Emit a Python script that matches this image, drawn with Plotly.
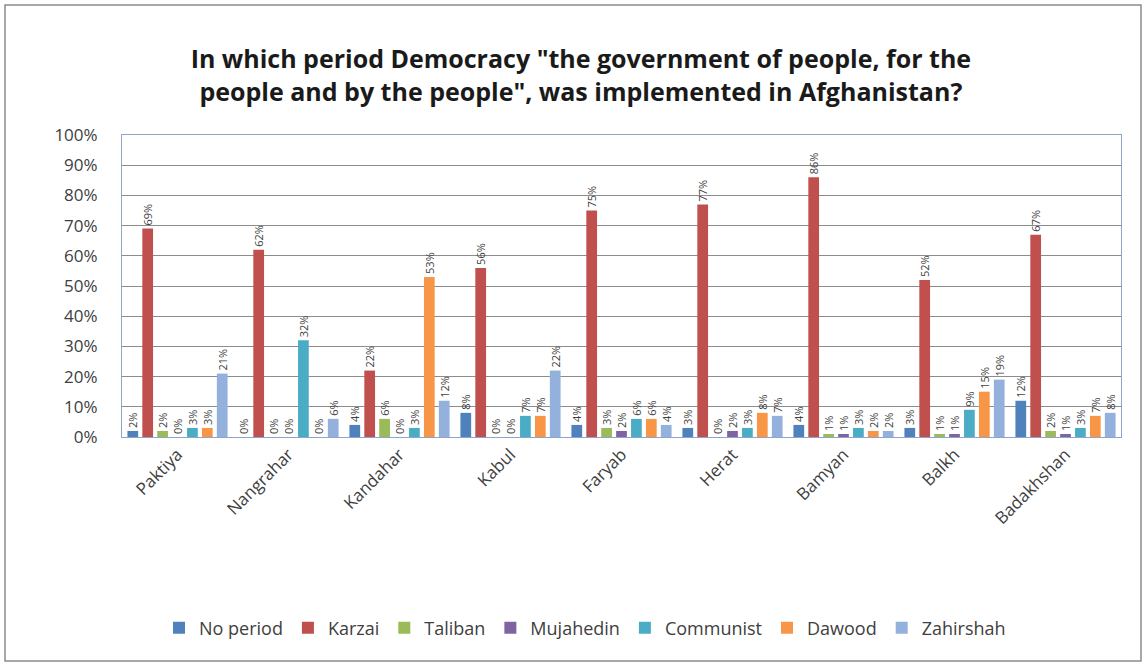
import plotly.graph_objects as go

provinces = ["Paktiya", "Nangrahar", "Kandahar", "Kabul", "Faryab",
             "Herat", "Bamyan", "Balkh", "Badakhshan"]

no_period = [2, 0, 4, 8, 4, 3, 4, 3, 12]
karzai = [69, 62, 22, 56, 75, 77, 86, 52, 67]
taliban = [2, 0, 6, 0, 3, 0, 1, 1, 2]
mujahedin = [0, 0, 0, 0, 2, 2, 1, 1, 1]
communist = [3, 32, 3, 7, 6, 3, 3, 9, 3]
dawood = [3, 0, 53, 7, 6, 8, 2, 15, 7]
zahirshah = [21, 6, 12, 22, 4, 7, 2, 19, 8]

series = [
    ("No period", no_period, "#4F81BD"),
    ("Karzai", karzai, "#C0504D"),
    ("Taliban", taliban, "#9BBB59"),
    ("Mujahedin", mujahedin, "#8064A2"),
    ("Communist", communist, "#4BACC6"),
    ("Dawood", dawood, "#F79646"),
    ("Zahirshah", zahirshah, "#93B1DC"),
]

W, H = 1148, 663
ML, MR, MT, MB = 122, 27, 135, 226
PW, PH = W - ML - MR, H - MT - MB

fig = go.Figure()
for name, vals, color in series:
    fig.add_trace(go.Bar(
        name=name, x=provinces, y=vals,
        marker=dict(color=color, line=dict(width=0)),
        text=[f"{v}%" for v in vals],
        textposition="outside", textangle=-90,
        constraintext="none", cliponaxis=False,
        textfont=dict(family="Open Sans", size=11, color="#404040"),
    ))


def px_to_paper_x(px):
    return (px - ML) / PW


def px_to_paper_y(py):
    return (H - MB - py) / PH


# outer chart frame
fig.add_shape(type="rect", xref="paper", yref="paper",
              x0=px_to_paper_x(5), x1=px_to_paper_x(1141),
              y0=px_to_paper_y(661), y1=px_to_paper_y(5),
              line=dict(color="#8c8c8c", width=1.5), layer="below")

fig.update_layout(
    width=W, height=H,
    margin=dict(l=ML, r=MR, t=MT, b=MB, autoexpand=False),
    paper_bgcolor="white", plot_bgcolor="white",
    barmode="group", bargap=0.06, bargroupgap=0.28,
    title=dict(
        text="In which period Democracy \"the government of people, for the<br>"
             "people and by the people\", was implemented in Afghanistan?",
        font=dict(family="Open Sans", size=25, color="#1a1a1a", weight="bold"),
        x=0.506, xref="container", xanchor="center",
        y=1 - 68 / H, yref="container", yanchor="middle",
    ),
    font=dict(family="Open Sans", color="#404040"),
    showlegend=True,
    legend=dict(
        orientation="h", x=px_to_paper_x(585), xanchor="center", xref="paper",
        y=px_to_paper_y(628), yanchor="middle",
        font=dict(family="Open Sans", size=18, color="#404040"),
        traceorder="normal", itemwidth=30,
    ),
    xaxis=dict(
        tickangle=-45, tickfont=dict(size=17, color="#404040"),
        showline=True, linecolor="#8EA5CB", mirror=True,
        ticks="", showgrid=False,
    ),
    yaxis=dict(
        range=[0, 100], dtick=10, ticksuffix="%",
        tickfont=dict(size=17, color="#404040"),
        showgrid=True, gridcolor="#8c8c8c", gridwidth=1,
        showline=True, linecolor="#8EA5CB", mirror=True,
        ticklabelstandoff=20, zeroline=False,
    ),
)

fig.write_html("out.html")
